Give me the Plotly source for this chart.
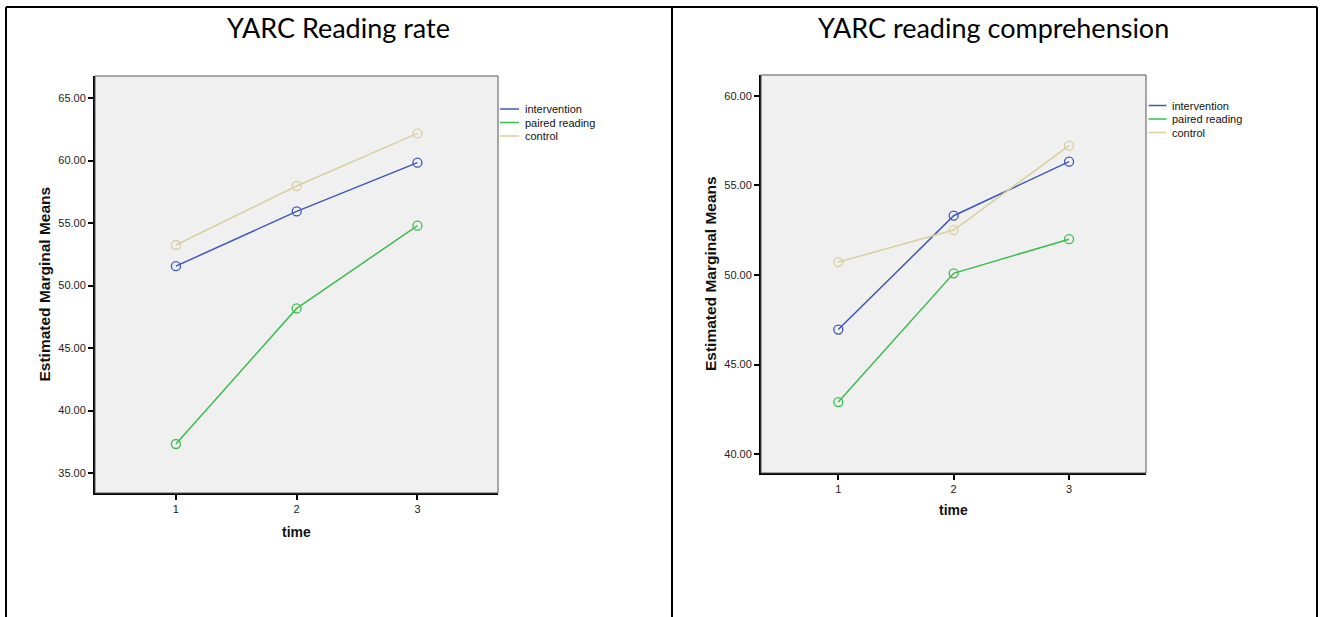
import plotly.graph_objects as go

W, H = 1322, 617

time_points = [1, 2, 3]
series_names = ["intervention", "paired reading", "control"]
series_colors = ["#3E58B8", "#3CBE4C", "#D8D09E"]

rate_intervention = [51.55, 55.93, 59.83]
rate_paired = [37.32, 48.17, 54.79]
rate_control = [53.24, 57.96, 62.17]

comp_intervention = [46.95, 53.31, 56.33]
comp_paired = [42.90, 50.09, 52.00]
comp_control = [50.72, 52.51, 57.22]

rate_ticks = [35, 40, 45, 50, 55, 60, 65]
comp_ticks = [40, 45, 50, 55, 60]

panels = [
    dict(title="YARC Reading rate", values=[rate_intervention, rate_paired, rate_control],
         ticks=rate_ticks, yrange=[33.4, 66.76], box=(95, 498, 76, 493),
         legend=(500, 519, 523, [109, 122.5, 136]), center=338, ytitle_x=44, xtitle_y=532),
    dict(title="YARC reading comprehension", values=[comp_intervention, comp_paired, comp_control],
         ticks=comp_ticks, yrange=[38.94, 61.17], box=(761, 1146, 75, 473),
         legend=(1148.5, 1166.5, 1170, [105.5, 119, 132.5]), center=993, ytitle_x=711, xtitle_y=510),
]


def px(x):
    return x / W


def py(y):
    return 1 - y / H


fig = go.Figure()
shapes = []
annotations = []

for i, p in enumerate(panels):
    n = "" if i == 0 else str(i + 1)
    x0, x1, y0, y1 = p["box"]
    for name, vals, col in zip(series_names, p["values"], series_colors):
        fig.add_trace(go.Scatter(
            x=time_points, y=vals, mode="lines+markers", name=name,
            line=dict(color=col, width=1.5),
            marker=dict(symbol="circle-open", size=9, color=col, line=dict(width=1.3, color=col)),
            xaxis="x" + n, yaxis="y" + n, showlegend=False, hoverinfo="x+y+name",
        ))
    fig.update_layout(**{
        "xaxis" + n: dict(
            domain=[px(x0), px(x1)], range=[0.33, 3.667], anchor="y" + n,
            tickvals=time_points, ticktext=[str(t) for t in time_points],
            showgrid=False, zeroline=False, showline=True, linecolor="#000", linewidth=2,
            ticks="outside", ticklen=5, tickcolor="#000", tickwidth=1.5,
            tickfont=dict(family="Arial", size=11, color="#222"), fixedrange=True,
        ),
        "yaxis" + n: dict(
            domain=[py(y1), py(y0)], range=p["yrange"], anchor="x" + n,
            tickvals=p["ticks"], tickformat=".2f",
            showgrid=False, zeroline=False, showline=True, linecolor="#000", linewidth=2,
            ticks="outside", ticklen=5, tickcolor="#000", tickwidth=1.5,
            tickfont=dict(family="Arial", size=11, color="#222"), fixedrange=True,
        ),
    })
    # thin frame on top/right of plot
    shapes.append(dict(type="rect", xref="x" + n + " domain", yref="y" + n + " domain",
                       x0=0, x1=1, y0=0, y1=1, line=dict(color="#555", width=1), layer="above"))
    # legend drawn as lines + text
    lx0, lx1, tx, ys = p["legend"]
    for name, col, yy in zip(series_names, series_colors, ys):
        shapes.append(dict(type="line", xref="paper", yref="paper",
                           x0=px(lx0), x1=px(lx1), y0=py(yy), y1=py(yy),
                           line=dict(color=col, width=1.5)))
        annotations.append(dict(text=name, xref="paper", yref="paper", x=px(tx), y=py(yy),
                                xanchor="left", yanchor="middle", showarrow=False,
                                font=dict(family="Arial", size=11, color="#111")))
    # titles
    annotations.append(dict(text=p["title"], xref="paper", yref="paper", x=px(p["center"]), y=py(28),
                            xanchor="center", yanchor="middle", showarrow=False,
                            font=dict(family="Lato", size=27, color="#000")))
    annotations.append(dict(text="<b>Estimated Marginal Means</b>", xref="paper", yref="paper",
                            x=px(p["ytitle_x"]), y=py((y0 + y1) / 2), textangle=-90,
                            xanchor="center", yanchor="middle", showarrow=False,
                            font=dict(family="Arial", size=15.5, color="#111")))
    annotations.append(dict(text="<b>time</b>", xref="paper", yref="paper",
                            x=px((x0 + x1) / 2), y=py(p["xtitle_y"]),
                            xanchor="center", yanchor="middle", showarrow=False,
                            font=dict(family="Arial", size=14, color="#111")))

# table-like borders around the two panels
for (a, b, c, d) in [(6, 1317, 7, 7), (6, 6, 7, 617), (672, 672, 7, 617), (1317, 1317, 7, 617)]:
    shapes.append(dict(type="line", xref="paper", yref="paper",
                       x0=px(a), x1=px(b), y0=py(c), y1=py(d),
                       line=dict(color="#000", width=2)))

fig.update_layout(
    width=W, height=H, margin=dict(l=0, r=0, t=0, b=0),
    paper_bgcolor="#FFFFFF", plot_bgcolor="#F0F0F0",
    shapes=shapes, annotations=annotations, showlegend=False,
)

fig.write_html("out.html", config={"displayModeBar": False})
